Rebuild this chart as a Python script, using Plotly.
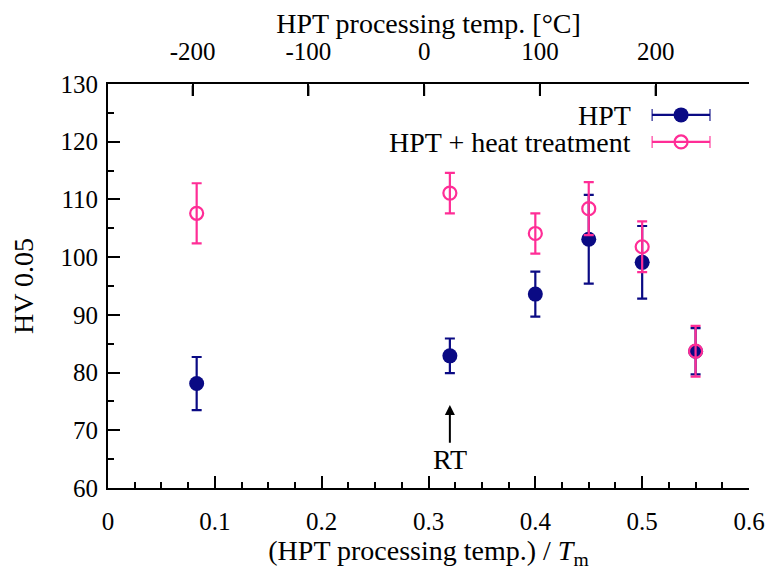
import plotly.graph_objects as go

# homologous temperature T/Tm, Tm of the alloy ~923 K
Tm = 923.0
x_hpt = [0.083, 0.32, 0.40, 0.45, 0.50, 0.55]
hv_hpt = [78.1, 82.9, 93.6, 103.1, 99.1, 83.7]
err_hpt = [4.6, 3.0, 3.9, 7.7, 6.3, 4.0]

x_heat = [0.083, 0.32, 0.40, 0.45, 0.50, 0.55]
hv_heat = [107.6, 111.1, 104.1, 108.4, 101.8, 83.7]
err_heat = [5.2, 3.5, 3.5, 4.6, 4.4, 4.4]

top_ticks = [-200, -100, 0, 100, 200]

navy = "#0a0a84"
pink = "#ff2d96"
font = "Liberation Serif"
tick_size = 25
title_size = 28
y_min, y_max = 60, 130

fig = go.Figure()

# dummy trace so the top axis is drawn
fig.add_trace(go.Scatter(x=top_ticks, y=[0] * len(top_ticks), xaxis="x2", yaxis="y",
                         mode="markers", marker=dict(opacity=0), showlegend=False,
                         hoverinfo="skip"))

fig.add_trace(go.Scatter(
    x=x_hpt, y=hv_hpt, mode="markers", name="HPT",
    marker=dict(color=navy, size=15, symbol="circle"),
    error_y=dict(type="data", array=err_hpt, color=navy, thickness=2.2, width=5),
    showlegend=False))

fig.add_trace(go.Scatter(
    x=x_heat, y=hv_heat, mode="markers", name="HPT + heat treatment",
    marker=dict(color=pink, size=13, symbol="circle-open", line=dict(color=pink, width=2.2)),
    error_y=dict(type="data", array=err_heat, color=pink, thickness=2.2, width=5),
    showlegend=False))

# legend samples (horizontal error bars) on a small helper axis
fig.add_trace(go.Scatter(
    x=[0], y=[1], mode="markers", xaxis="x3", yaxis="y3", showlegend=False,
    marker=dict(color=navy, size=15),
    error_x=dict(type="constant", value=1, color=navy, thickness=2.2, width=6)))
fig.add_trace(go.Scatter(
    x=[0], y=[0], mode="markers", xaxis="x3", yaxis="y3", showlegend=False,
    marker=dict(color=pink, size=13, symbol="circle-open", line=dict(color=pink, width=2.2)),
    error_x=dict(type="constant", value=1, color=pink, thickness=2.2, width=6)))

axis_common = dict(showgrid=False, zeroline=False, showline=True, linecolor="black",
                   linewidth=2, ticks="inside", tickcolor="black",
                   tickwidth=2, ticklen=12, automargin=False,
                   tickfont=dict(family=font, size=tick_size, color="black"))

# page body has an 8px margin, so the figure is a little smaller than the window
fig.update_layout(
    width=766, height=569,
    margin=dict(l=100, r=25, t=76, b=89),
    paper_bgcolor="white", plot_bgcolor="rgba(0,0,0,0)",
    font=dict(family=font, size=tick_size, color="black"),
    xaxis=dict(range=[0, 0.6], dtick=0.1, **axis_common, ticklabelstandoff=10,
               minor=dict(dtick=0.025, ticks="inside", ticklen=6, tickwidth=2, tickcolor="black"),
               title=dict(text="(HPT processing temp.) / <i>T</i><sub>m</sub>",
                          font=dict(family=font, size=title_size), standoff=0)),
    yaxis=dict(range=[y_min, y_max], dtick=10, **axis_common, ticklabelstandoff=3,
               minor=dict(dtick=5, ticks="inside", ticklen=6, tickwidth=2, tickcolor="black"),
               title=dict(text="HV 0.05", font=dict(family=font, size=title_size), standoff=24)),
    xaxis2=dict(side="top", overlaying="x", anchor="y",
                range=[-273.15, 0.6 * Tm - 273.15],
                tickvals=top_ticks, ticktext=[str(t) for t in top_ticks],
                **axis_common, ticklabelstandoff=12,
                title=dict(text="HPT processing temp. [°C]",
                           font=dict(family=font, size=title_size), standoff=2)),
    yaxis2=dict(overlaying="y", side="right", anchor="x", range=[y_min, y_max],
                showline=True, linecolor="black", linewidth=2, ticks="",
                showticklabels=False, showgrid=False, zeroline=False),
    xaxis3=dict(domain=[0.848, 0.940], range=[-1, 1], visible=False, fixedrange=True),
    yaxis3=dict(domain=[0.823, 0.957], range=[-0.5, 1.5], visible=False, fixedrange=True,
                anchor="x3"),
)

# top-axis tick marks as headless arrows (not clipped), temperatures -> T/Tm
for t in top_ticks:
    xt = (t + 273.15) / Tm
    fig.add_annotation(text="", x=xt, y=y_max - 2.1, ax=xt, ay=y_max,
                       xref="x", yref="y", axref="x", ayref="y",
                       showarrow=True, arrowhead=0, arrowwidth=2, arrowcolor="black",
                       standoff=0, startstandoff=0)

fig.add_annotation(text="HPT", xref="paper", yref="paper", x=0.819, y=0.923,
                   xanchor="right", yanchor="middle", showarrow=False, height=26,
                   font=dict(family=font, size=title_size, color="black"))
fig.add_annotation(text="HPT + heat treatment", xref="paper", yref="paper", x=0.819, y=0.856,
                   xanchor="right", yanchor="middle", showarrow=False, height=26,
                   font=dict(family=font, size=title_size, color="black"))

fig.add_annotation(text="RT", x=0.32, y=74.4, ax=0.32, ay=64.9, xref="x", yref="y",
                   axref="x", ayref="y", showarrow=True, arrowhead=2, arrowsize=1,
                   arrowwidth=2, arrowcolor="black",
                   font=dict(family=font, size=title_size, color="black"))

fig.write_html("out.html")
